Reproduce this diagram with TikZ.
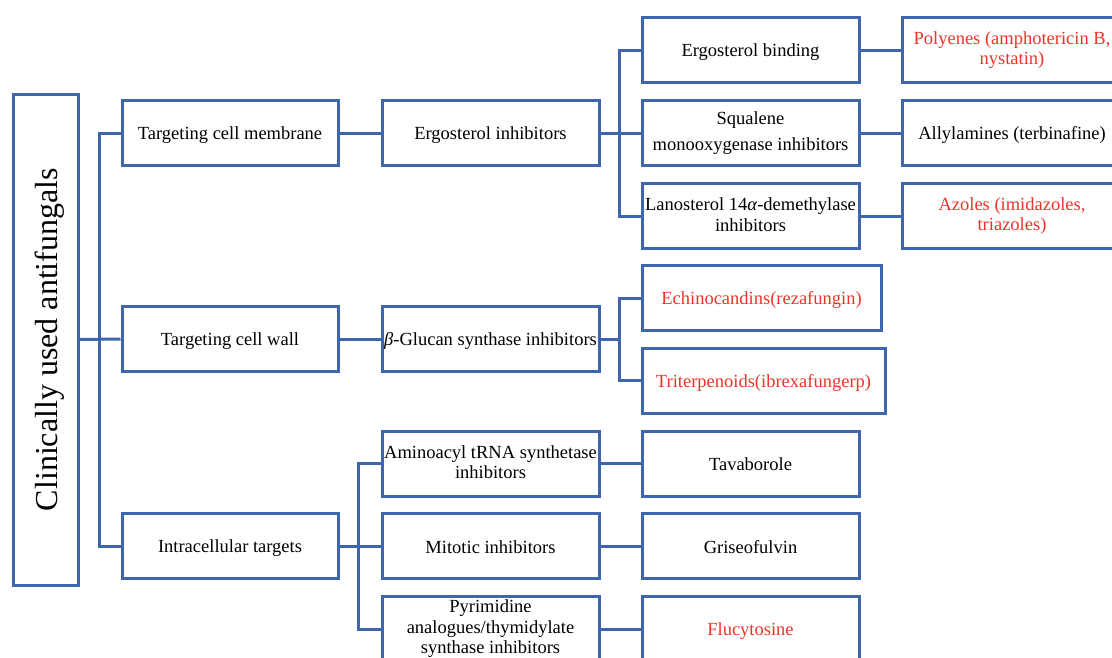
\documentclass[tikz,border=0pt]{standalone}
\usepackage{graphicx}
\usepackage{fontspec}
\setmainfont{Liberation Serif}
\definecolor{lineblue}{RGB}{62,102,176}
\definecolor{txtred}{RGB}{238,52,42}
\newcommand\boxstrut{\rule[-3pt]{0pt}{20pt}}
\begin{document}
\begin{tikzpicture}[x=1pt,y=-1pt,
  box/.style={draw=lineblue, line width=3pt, align=center, inner sep=0pt,
    minimum height=65pt, font=\fontsize{18.5}{20.5}\selectfont,
    execute at begin node=\boxstrut, execute at end node=\boxstrut},
  redtxt/.style={text=txtred},
  link/.style={draw=lineblue, line width=3pt}]
\useasboundingbox (0,0) rectangle (1112,657);
\clip (0,0) rectangle (1112,657);
\fill[white] (0,0) rectangle (1112,657);

% root
\node[draw=lineblue, line width=3pt, inner sep=0pt, minimum width=65pt, minimum height=491pt] (root) at (45.5,339.5)
  {\rotatebox{90}{\fontsize{32}{34}\selectfont\rule{0pt}{30pt}Clinically used antifungals}};

% level 1
\node[box, minimum width=216pt] (tcm) at (230,133) {Targeting cell membrane};
\node[box, minimum width=216pt] (tcw) at (230,339) {Targeting cell wall};
\node[box, minimum width=216pt] (it)  at (230,546) {Intracellular targets};

% level 2
\node[box, minimum width=217pt] (ei) at (490.5,133) {Ergosterol inhibitors};
\node[box, minimum width=217pt] (bg) at (490.5,339) {\textit{β}-Glucan synthase inhibitors};
\node[box, minimum width=217pt] (aa) at (490.5,463.5) {Aminoacyl tRNA synthetase\\inhibitors};
\node[box, minimum width=217pt] (mi) at (490.5,546) {Mitotic inhibitors};
\node[box, minimum width=217pt, minimum height=66pt] (py) at (490.5,629) {Pyrimidine\\analogues/thymidylate\\synthase inhibitors};

% level 3
\node[box, minimum width=217pt] (eb) at (750.5,50) {Ergosterol binding};
\node[box, minimum width=217pt] (sq) at (750.5,133) {Squalene\\[5pt]monooxygenase inhibitors};
\node[box, minimum width=217pt] (la) at (750.5,216) {Lanosterol 14\textit{α}-demethylase\\inhibitors};
\node[box, redtxt, minimum width=239pt] (ec) at (761.5,298) {Echinocandins(rezafungin)};
\node[box, redtxt, minimum width=243pt] (tr) at (763.5,380.5) {Triterpenoids(ibrexafungerp)};
\node[box, minimum width=217pt] (tv) at (750.5,463.5) {Tavaborole};
\node[box, minimum width=217pt] (gr) at (750.5,546) {Griseofulvin};
\node[box, redtxt, minimum width=217pt, minimum height=66pt] (fl) at (750.5,629) {Flucytosine};

% level 4
\node[box, redtxt, minimum width=220pt] (po) at (1012,50) {Polyenes (amphotericin B,\\nystatin)};
\node[box, minimum width=220pt] (al) at (1012,133) {Allylamines (terbinafine)};
\node[box, redtxt, minimum width=220pt] (az) at (1012,216) {Azoles (imidazoles,\\triazoles)};

% connectors
\draw[link] (root.east) -- (tcw.west);
\draw[link] (tcm.west) -- ++(-21,0) |- (it.west);
\draw[link] (tcm.east) -- (ei.west);
\draw[link] (tcw.east) -- (bg.west);
\draw[link] (it.east) -- (mi.west);
\draw[link] (aa.west) -- ++(-22,0) |- (py.west);
\draw[link] (ei.east) -- (sq.west);
\draw[link] (eb.west) -- ++(-21,0) |- (la.west);
\path (ec.west) -- ++(-21,0) coordinate (bgj);
\draw[link] (ec.west) -- (bgj) |- (tr.west);
\draw[link] (bg.east) -- (bg.east -| bgj);
\draw[link] (eb.east) -- (po.west);
\draw[link] (sq.east) -- (al.west);
\draw[link] (la.east) -- (az.west);
\draw[link] (aa.east) -- (tv.west);
\draw[link] (mi.east) -- (gr.west);
\draw[link] (py.east) -- (fl.west);
\end{tikzpicture}
\end{document}
